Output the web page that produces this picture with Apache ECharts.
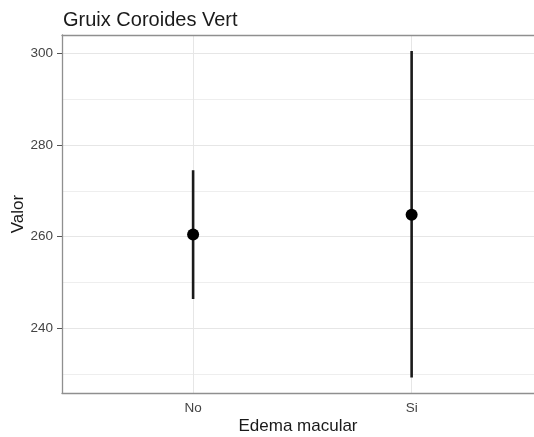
<!DOCTYPE html>
<html><head><meta charset="utf-8">
<script src="https://cdn.jsdelivr.net/npm/echarts@6/dist/echarts.min.js"></script>
<style>html,body{margin:0;padding:0;background:#fff}#c{width:534px;height:437px}</style>
</head><body><div id="c"></div>
<script>
const categories = ['No', 'Si'];
const means = [260.5, 264.8];
const lows = [246.4, 229.3];
const highs = [274.5, 300.5];
const yTicks = [240, 260, 280, 300];
const yMinor = [230, 250, 270, 290];

const xs = categories.map((c, i) => i + 1);
const F = 'Liberation Sans, Arial, sans-serif';
const chart = echarts.init(document.getElementById('c'));
const gridLines = [];
yTicks.forEach(v => gridLines.push({yAxis: v, lineStyle: {color: '#e6e6e6', width: 1, type: 'solid'}}));
yMinor.forEach(v => gridLines.push({yAxis: v, lineStyle: {color: '#eeeeee', width: 1, type: 'solid'}}));
xs.forEach(v => gridLines.push({xAxis: v, lineStyle: {color: '#e6e6e6', width: 1, type: 'solid'}}));

chart.setOption({
  animation: false,
  title: {text: 'Gruix Coroides Vert', left: 58, top: 5,
    textStyle: {fontFamily: F, fontSize: 20, fontWeight: 'normal', color: '#1a1a1a'}},
  grid: {left: 62, top: 35, right: 0, bottom: 44, show: false, outerBoundsMode: 'none', containLabel: false},
  xAxis: [{
    type: 'value', min: 0.4, max: 2.56, position: 'bottom',
    name: 'Edema macular', nameLocation: 'middle', nameGap: 25, nameMoveOverlap: false,
    nameTextStyle: {fontFamily: F, fontSize: 17, color: '#1a1a1a'},
    axisLine: {show: true, onZero: false, lineStyle: {color: '#8f8f8f', width: 1.3}},
    axisTick: {show: false},
    splitLine: {show: false},
    axisLabel: {customValues: xs, margin: 8, fontFamily: F, fontSize: 13.5, color: '#444'},
  }, {
    type: 'value', min: 0.4, max: 2.56, position: 'top',
    axisLine: {show: true, onZero: false, lineStyle: {color: '#8f8f8f', width: 1.3}},
    axisTick: {show: false}, axisLabel: {show: false}, splitLine: {show: false}
  }],
  yAxis: {
    type: 'value', min: 225.9, max: 304.0,
    name: 'Valor', nameLocation: 'middle', nameRotate: 90, nameGap: 35, nameMoveOverlap: false,
    nameTextStyle: {fontFamily: F, fontSize: 17, color: '#1a1a1a'},
    axisLine: {show: true, lineStyle: {color: '#8f8f8f', width: 1.3}},
    axisTick: {show: true, customValues: yTicks, length: 5, lineStyle: {color: '#555'}},
    axisLabel: {customValues: yTicks, margin: 9, fontFamily: F, fontSize: 13.5, color: '#444'},
    splitLine: {show: false}
  },
  series: [{
    type: 'custom', xAxisIndex: 0,
    data: xs.map((x, i) => [x, lows[i], highs[i]]),
    renderItem: (params, api) => {
      const p1 = api.coord([api.value(0), api.value(1)]);
      const p2 = api.coord([api.value(0), api.value(2)]);
      return {type: 'line', shape: {x1: p1[0], y1: p1[1], x2: p2[0], y2: p2[1]},
        style: {stroke: '#1a1a1a', lineWidth: 2.6}};
    },
    markLine: {silent: true, symbol: 'none', label: {show: false}, z: 0, data: gridLines},
    z: 2
  }, {
    type: 'scatter', xAxisIndex: 0,
    data: xs.map((x, i) => [x, means[i]]),
    symbolSize: 12, itemStyle: {color: '#000', opacity: 1}, z: 3
  }]
});
chart.setOption({xAxis: [{axisLabel: {formatter: v => categories[Math.round(v) - 1] || ''}}, {}]});
</script></body></html>
